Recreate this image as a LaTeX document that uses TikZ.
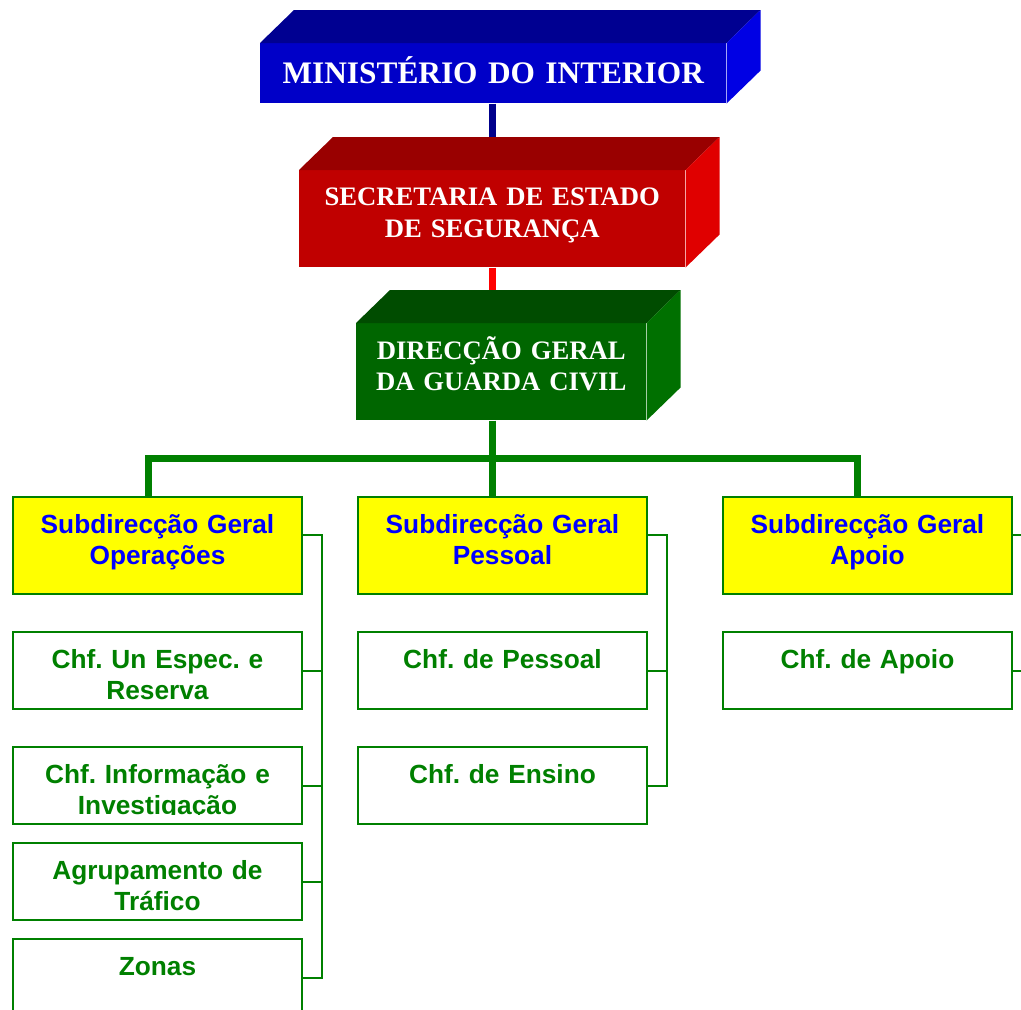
\documentclass[tikz,border=0pt]{standalone}
\usepackage{fontspec}
\setmainfont{Liberation Serif}
\setsansfont{Liberation Sans}
\usetikzlibrary{backgrounds}
\definecolor{mifront}{RGB}{0,0,200}
\definecolor{mitop}{RGB}{0,0,145}
\definecolor{miside}{RGB}{0,0,228}
\definecolor{sefront}{RGB}{192,0,0}
\definecolor{setop}{RGB}{153,0,0}
\definecolor{seside}{RGB}{224,0,0}
\definecolor{dgfront}{RGB}{0,102,0}
\definecolor{dgtop}{RGB}{0,76,0}
\definecolor{dgside}{RGB}{0,112,0}
\definecolor{gr}{RGB}{0,128,0}
\definecolor{yel}{RGB}{255,255,0}
\definecolor{txtblue}{RGB}{0,0,255}
\definecolor{navyline}{RGB}{0,0,140}
\begin{document}
\frenchspacing
\begin{tikzpicture}[x=0.75pt,y=-0.75pt,
  cube/.style={anchor=north west,inner sep=0pt,text=white,align=center,font=\bfseries\fontsize{20}{24}\selectfont},
  sub/.style={anchor=north west,draw=gr,line width=1.5pt,fill=yel,text=txtblue,inner sep=0pt,text width=216.75pt,align=center,text height=27pt,text depth=45.75pt,font=\sffamily\bfseries\fontsize{19.7}{23.25}\selectfont},
  chf/.style={sub,fill=white,text=gr,text depth=30.75pt},
  link/.style={gr,line width=1.5pt},
  bar/.style={gr,line width=5.25pt}]
\useasboundingbox (0,0) rectangle (1021,1010);
\node[cube,fill=mifront,text width=349.5pt,text height=30pt,text depth=15pt,font=\bfseries\fontsize{23.5}{28}\selectfont] (mi) at (260,43) {MINISTÉRIO DO INTERIOR};
\node[cube,fill=sefront,text width=289.5pt,text height=26.25pt,text depth=46.5pt] (se) at (299,170) {SECRETARIA DE ESTADO\\DE SEGURANÇA};
\node[cube,fill=dgfront,text width=217.5pt,text height=27pt,text depth=45.75pt,font=\bfseries\fontsize{20}{23.25}\selectfont] (dg) at (356,323) {DIRECÇÃO GERAL\\DA GUARDA CIVIL};
\foreach \n in {mi,se,dg}{
  \fill[\n top] (\n.north west) -- ++(34,-33) -- ([shift={(34,-33)}]\n.north east) -- (\n.north east) -- cycle;
  \fill[\n side] (\n.north east) -- ++(34,-33) -- ([shift={(34,-33)}]\n.south east) -- (\n.south east) -- cycle;
}
\node[sub] (sgo) at (12,496) {Subdirecção Geral\\Operações};
\node[sub] (sgp) at (357,496) {Subdirecção Geral\\Pessoal};
\node[sub] (sga) at (722,496) {Subdirecção Geral\\Apoio};
\node[chf] (cue) at (12,631) {Chf. Un Espec. e\\Reserva};
\node[chf] (cin) at (12,746) {Chf. Informação e\\Investigação};
\fill[white] ([shift={(30,-10)}]cin.south west) rectangle ([shift={(-30,-2.5)}]cin.south east);
\node[chf] (cat) at (12,842) {Agrupamento de\\Tráfico};
\node[chf] (czo) at (12,938) {Zonas};
\node[chf] (cpe) at (357,631) {Chf. de Pessoal};
\node[chf] (cen) at (357,746) {Chf. de Ensino};
\node[chf] (cap) at (722,631) {Chf. de Apoio};
\coordinate (sp) at (492,458);
\coordinate (dl) at (148,458);
\coordinate (dr) at (857,458);
\begin{scope}[on background layer]
\draw[navyline,line width=5.25pt] (mi.south -| sp) -- (se.north -| sp);
\draw[red,line width=5.25pt] (se.south -| sp) -- (dg.north -| sp);
\draw[bar] (dg.south -| sp) -- (sgp.north -| sp);
\draw[bar] (sgo.north -| dl) -- (dl) -- (dr) -- (sga.north -| dr);
\end{scope}
\draw[link] (sgo.north east) ++(0,38.5) -- ++(18.5,0) coordinate (lo) |- (czo.east);
\foreach \n in {cue,cin,cat} \draw[link] (\n.east) -- (\n.east -| lo);
\draw[link] (sgp.north east) ++(0,38.5) -- ++(18.5,0) coordinate (lp) |- (cen.east);
\draw[link] (cpe.east) -- (cpe.east -| lp);
\draw[link] (sga.north east) ++(0,38.5) -- ++(18.5,0) coordinate (la) |- (cap.east);
\end{tikzpicture}
\end{document}
